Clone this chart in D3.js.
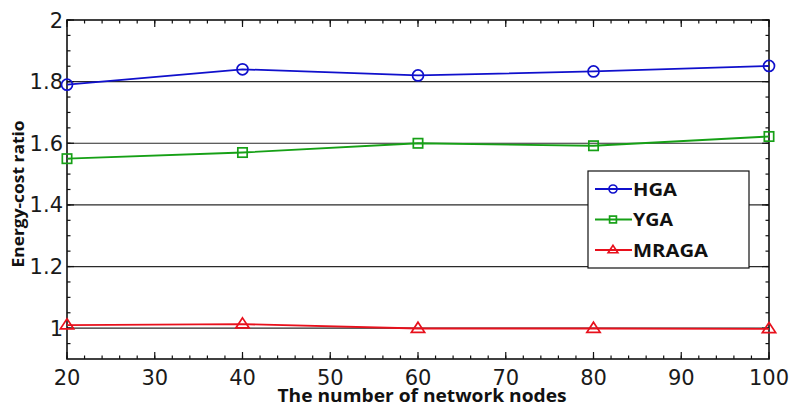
<!DOCTYPE html>
<html>
<head>
<meta charset="utf-8">
<script src="https://cdn.jsdelivr.net/npm/d3@7/dist/d3.min.js"></script>
<style>
  html, body { margin: 0; padding: 0; background: #fff; }
  svg { display: block; }
  .title { font-family: "Open Sans", sans-serif; font-weight: 700; }
</style>
</head>
<body>
<div id="chart"></div>
<script>
// data
const nodes = [20, 40, 60, 80, 100];
const hga = [1.79, 1.84, 1.82, 1.833, 1.851];
const yga = [1.55, 1.57, 1.60, 1.592, 1.622];
const mraga = [1.01, 1.013, 0.999, 0.999, 0.998];
const seriesNames = ['HGA', 'YGA', 'MRAGA'];
const xTicks = [20, 30, 40, 50, 60, 70, 80, 90, 100];
const yTicks = [1, 1.2, 1.4, 1.6, 1.8, 2];

const width = 791;
const height = 410;
const margin = { top: 20, right: 22, bottom: 51, left: 67 };
const innerWidth = width - margin.left - margin.right;
const innerHeight = height - margin.top - margin.bottom;

const colors = { HGA: '#1010cc', YGA: '#16a016', MRAGA: '#e8101c' };
const markers = { HGA: 'circle', YGA: 'square', MRAGA: 'triangle' };
const seriesData = { HGA: hga, YGA: yga, MRAGA: mraga };
// rendered widths of the legend labels in the reference
const legendWidths = { HGA: 44, YGA: 40, MRAGA: 75 };

const tickFont = '"DejaVu Sans", sans-serif';

const x = d3.scaleLinear().domain([20, 100]).range([0, innerWidth]);
const y = d3.scaleLinear().domain([0.9, 2]).range([innerHeight, 0]);

const svg = d3
  .select('#chart')
  .append('svg')
  .attr('width', width)
  .attr('height', height)
  .style('background', '#ffffff');

const g = svg.append('g').attr('transform', `translate(${margin.left},${margin.top})`);

/* Horizontal grid */
g.append('g')
  .selectAll('line')
  .data(yTicks.filter((d) => d < 2))
  .join('line')
  .attr('x1', 0)
  .attr('x2', innerWidth)
  .attr('y1', (d) => y(d))
  .attr('y2', (d) => y(d))
  .attr('stroke', '#2a2a2a')
  .attr('stroke-width', 1.2);

/* Tick marks, pointing inward on all four sides */
const xMinor = d3.range(20, 100.001, 2);
const yMinor = d3.range(0.95, 2.001, 0.05);

function tickMarks(parent, values, scale, horizontal, len, offset) {
  parent
    .append('g')
    .selectAll('line')
    .data(values)
    .join('line')
    .attr('x1', (d) => (horizontal ? scale(d) : offset))
    .attr('x2', (d) => (horizontal ? scale(d) : offset + len))
    .attr('y1', (d) => (horizontal ? offset : scale(d)))
    .attr('y2', (d) => (horizontal ? offset + len : scale(d)))
    .attr('stroke', '#111')
    .attr('stroke-width', 1.2);
}

tickMarks(g, xMinor, x, true, -3.5, innerHeight);
tickMarks(g, xMinor, x, true, 3.5, 0);
tickMarks(g, xTicks, x, true, -7, innerHeight);
tickMarks(g, xTicks, x, true, 7, 0);
tickMarks(g, yMinor, y, false, 3.5, 0);
tickMarks(g, yMinor, y, false, -3.5, innerWidth);
tickMarks(g, yTicks, y, false, 7, 0);
tickMarks(g, yTicks, y, false, -7, innerWidth);

/* Box */
g.append('rect')
  .attr('width', innerWidth)
  .attr('height', innerHeight)
  .attr('fill', 'none')
  .attr('stroke', '#111')
  .attr('stroke-width', 1.6);

/* Tick labels */
g.append('g')
  .selectAll('text')
  .data(xTicks)
  .join('text')
  .attr('x', (d) => x(d))
  .attr('y', innerHeight + 26)
  .attr('text-anchor', 'middle')
  .attr('font-family', tickFont)
  .attr('font-size', 21)
  .attr('fill', '#1a1a1a')
  .text((d) => d);

g.append('g')
  .selectAll('text')
  .data(yTicks)
  .join('text')
  .attr('x', -4)
  .attr('y', (d) => y(d))
  .attr('dy', '0.36em')
  .attr('text-anchor', 'end')
  .attr('font-family', tickFont)
  .attr('font-size', 21)
  .attr('fill', '#1a1a1a')
  .text((d) => d3.format('~g')(d));

/* Axis titles */
svg
  .append('text')
  .attr('class', 'title')
  .attr('x', margin.left + innerWidth / 2 + 4)
  .attr('y', 402)
  .attr('text-anchor', 'middle')
  .attr('font-size', 17.5)
  .attr('textLength', 289)
  .attr('lengthAdjust', 'spacingAndGlyphs')
  .attr('fill', '#111')
  .text('The number of network nodes');

svg
  .append('text')
  .attr('class', 'title')
  .attr('transform', 'translate(24,194) rotate(-90)')
  .attr('text-anchor', 'middle')
  .attr('font-size', 16)
  .attr('textLength', 147)
  .attr('lengthAdjust', 'spacingAndGlyphs')
  .attr('fill', '#111')
  .text('Energy-cost ratio');

/* Marker drawing */
function drawMarker(parent, type, cx, cy, size, color) {
  if (type === 'circle') {
    parent.append('circle').attr('cx', cx).attr('cy', cy).attr('r', size)
      .attr('fill', 'none').attr('stroke', color).attr('stroke-width', 1.7);
  } else if (type === 'square') {
    parent.append('rect').attr('x', cx - size * 0.85).attr('y', cy - size * 0.85)
      .attr('width', size * 1.7).attr('height', size * 1.7)
      .attr('fill', 'none').attr('stroke', color).attr('stroke-width', 1.7);
  } else {
    const s = size * 1.15;
    parent.append('path')
      .attr('d', `M${cx},${cy - s}L${cx + s * 1.05},${cy + s * 0.6}L${cx - s * 1.05},${cy + s * 0.6}Z`)
      .attr('fill', 'none').attr('stroke', color).attr('stroke-width', 1.7);
  }
}

/* Lines */
const line = d3
  .line()
  .x((d) => x(d[0]))
  .y((d) => y(d[1]));

seriesNames.forEach((name) => {
  const values = nodes.map((n, i) => [n, seriesData[name][i]]);
  g.append('path')
    .datum(values)
    .attr('fill', 'none')
    .attr('stroke', colors[name])
    .attr('stroke-width', 1.8)
    .attr('d', line);
  values.forEach((d) => drawMarker(g, markers[name], x(d[0]), y(d[1]), 5.5, colors[name]));
});

/* Legend */
const legend = svg.append('g').attr('transform', 'translate(588,171)');
legend
  .append('rect')
  .attr('width', 161)
  .attr('height', 97)
  .attr('fill', '#fff')
  .attr('stroke', '#111')
  .attr('stroke-width', 1.2);

seriesNames.forEach((name, i) => {
  const ly = 18 + i * 30.5;
  legend
    .append('line')
    .attr('x1', 7)
    .attr('x2', 44)
    .attr('y1', ly)
    .attr('y2', ly)
    .attr('stroke', colors[name])
    .attr('stroke-width', 1.8);
  drawMarker(legend, markers[name], 25, ly, 4, colors[name]);
  legend
    .append('text')
    .attr('class', 'title')
    .attr('x', 45)
    .attr('y', ly + 6.5)
    .attr('font-size', 18)
    .attr('textLength', legendWidths[name])
    .attr('lengthAdjust', 'spacingAndGlyphs')
    .attr('fill', '#111')
    .text(name);
});
</script>
</body>
</html>
